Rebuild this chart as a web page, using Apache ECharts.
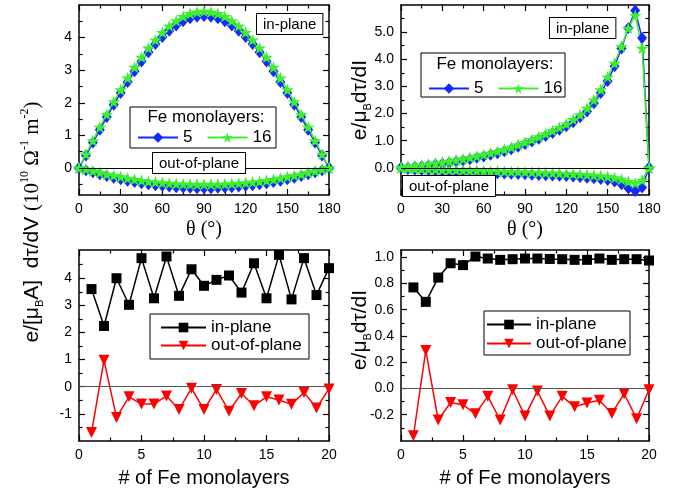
<!DOCTYPE html>
<html>
<head>
<meta charset="utf-8">
<script src="https://cdn.jsdelivr.net/npm/echarts@6/dist/echarts.min.js"></script>
<style>
  html, body { margin: 0; padding: 0; background: #fff; }
  #chart { width: 686px; height: 493px; }
</style>
</head>
<body>
<div id="chart"></div>
<script>
// angle scan (top panels)
const theta = [0,5,10,15,20,25,30,35,40,45,50,55,60,65,70,75,80,85,90,95,100,105,110,115,120,125,130,135,140,145,150,155,160,165,170,175,180];

// top-left: dtau/dV, 5 and 16 Fe monolayers
const dV5In = [0.00,0.38,0.78,1.17,1.56,1.94,2.30,2.64,2.97,3.27,3.55,3.80,4.02,4.21,4.37,4.50,4.59,4.64,4.66,4.64,4.59,4.50,4.37,4.21,4.02,3.80,3.55,3.27,2.97,2.64,2.30,1.94,1.56,1.17,0.78,0.38,0.00];
const dV5Out = [0.00,-0.07,-0.13,-0.19,-0.25,-0.30,-0.35,-0.39,-0.43,-0.47,-0.50,-0.53,-0.55,-0.57,-0.59,-0.60,-0.61,-0.62,-0.62,-0.62,-0.61,-0.60,-0.59,-0.57,-0.55,-0.53,-0.50,-0.47,-0.43,-0.39,-0.35,-0.30,-0.25,-0.19,-0.13,-0.07,0.00];
const dV16In = [0.00,0.42,0.84,1.25,1.64,2.03,2.40,2.76,3.09,3.40,3.68,3.93,4.16,4.36,4.52,4.65,4.74,4.79,4.81,4.79,4.74,4.65,4.52,4.36,4.16,3.93,3.68,3.40,3.09,2.76,2.40,2.03,1.64,1.25,0.84,0.42,0.00];
const dV16Out = [0.00,-0.04,-0.09,-0.14,-0.19,-0.23,-0.27,-0.31,-0.35,-0.38,-0.41,-0.43,-0.45,-0.47,-0.48,-0.49,-0.50,-0.50,-0.50,-0.50,-0.50,-0.49,-0.48,-0.47,-0.45,-0.43,-0.41,-0.38,-0.35,-0.31,-0.27,-0.23,-0.19,-0.14,-0.09,-0.04,0.00];

// top-right: e/muB dtau/dI
const dI5In = [0.00,0.00,0.03,0.06,0.09,0.12,0.15,0.19,0.23,0.27,0.32,0.37,0.42,0.48,0.54,0.61,0.69,0.78,0.88,0.97,1.07,1.17,1.28,1.40,1.53,1.68,1.86,2.08,2.38,2.76,3.20,3.74,4.40,5.15,5.80,4.78,0.00];
const dI5Out = [0.00,-0.04,-0.06,-0.08,-0.09,-0.10,-0.12,-0.13,-0.14,-0.15,-0.16,-0.17,-0.18,-0.19,-0.20,-0.21,-0.22,-0.23,-0.24,-0.25,-0.26,-0.27,-0.28,-0.29,-0.30,-0.32,-0.34,-0.36,-0.38,-0.41,-0.45,-0.50,-0.60,-0.75,-0.85,-0.72,0.00];
const dI16In = [0.02,0.05,0.08,0.11,0.14,0.17,0.21,0.25,0.29,0.33,0.38,0.43,0.49,0.55,0.61,0.68,0.76,0.85,0.95,1.05,1.15,1.26,1.37,1.49,1.62,1.78,1.96,2.20,2.50,2.88,3.35,3.86,4.47,5.15,5.62,4.41,0.00];
const dI16Out = [0.00,-0.02,-0.03,-0.04,-0.05,-0.06,-0.07,-0.08,-0.08,-0.09,-0.10,-0.10,-0.11,-0.12,-0.12,-0.13,-0.14,-0.14,-0.15,-0.16,-0.17,-0.18,-0.19,-0.20,-0.21,-0.22,-0.23,-0.25,-0.27,-0.29,-0.32,-0.36,-0.42,-0.50,-0.56,-0.45,0.00];

// bottom panels: vs number of Fe monolayers
const layers = [1,2,3,4,5,6,7,8,9,10,11,12,13,14,15,16,17,18,19,20];
const layerVIn = [3.60,2.24,4.00,3.02,4.74,3.26,4.80,3.35,4.33,3.72,3.94,4.10,3.47,4.55,3.26,4.86,3.22,4.74,3.38,4.37];
const layerVOut = [-1.69,0.98,-1.13,-0.37,-0.64,-0.64,-0.34,-0.84,-0.06,-0.84,-0.10,-0.90,-0.25,-0.70,-0.37,-0.49,-0.65,-0.21,-0.78,-0.08];
const layerIIn = [0.77,0.66,0.845,0.954,0.94,1.005,0.99,0.98,0.985,0.99,0.99,0.987,0.985,0.98,0.98,0.99,0.98,0.985,0.985,0.975];
const layerIOut = [-0.36,0.29,-0.24,-0.107,-0.124,-0.193,-0.06,-0.24,-0.01,-0.21,-0.02,-0.21,-0.06,-0.14,-0.11,-0.09,-0.19,-0.04,-0.23,-0.01];

// tick values
const thetaMajor = [0,30,60,90,120,150,180];
const thetaMinor = [15,45,75,105,135,165];
const layerMajor = [0,5,10,15,20];
const layerMinor = [2.5,7.5,12.5,17.5];
const tlMajor = [0,1,2,3,4];
const tlMinor = [-0.5,0.5,1.5,2.5,3.5,4.5];
const trMajor = [0,1,2,3,4,5];
const trMinor = [-0.5,0.5,1.5,2.5,3.5,4.5,5.5];
const blMajor = [-1,0,1,2,3,4];
const blMinor = [-1.5,-0.5,0.5,1.5,2.5,3.5,4.5];
const brMajor = [-0.2,0,0.2,0.4,0.6,0.8,1.0];
const brMinor = [-0.3,-0.1,0.1,0.3,0.5,0.7,0.9];

const SANS = '"Liberation Sans", Arial, sans-serif';
const SERIF = '"Liberation Serif", "Times New Roman", serif';
const BLUE = '#1428ff';
const GREEN = '#3cf02c';
const STAR = 'path://M50,0 L61,35 L98,35 L68,57 L79,91 L50,70 L21,91 L32,57 L2,35 L39,35 Z';

function axes(gridIndex, dim, min, max, major, minor, fmt, name, nameFont, nameGap) {
  const posA = dim === 'x' ? 'bottom' : 'left';
  const posB = dim === 'x' ? 'top' : 'right';
  const tick = (vals, len) => ({ show: true, inside: true, length: len, customValues: vals, lineStyle: { color: '#000', width: 1.2 } });
  const common = { gridIndex, type: 'value', min, max, splitLine: { show: false } };
  const main = Object.assign({}, common, {
    position: posA,
    axisLine: { show: true, onZero: false, lineStyle: { color: '#000', width: 1.5 } },
    axisTick: tick(major, 6),
    axisLabel: { show: true, customValues: major, formatter: fmt, color: '#000', fontFamily: SANS, fontSize: 14, margin: 7 }
  });
  if (name) {
    main.name = name;
    main.nameLocation = 'middle';
    main.nameGap = nameGap;
    main.nameTextStyle = { color: '#000', fontFamily: nameFont, fontSize: 20 };
  }
  const minorA = Object.assign({}, common, { position: posA, axisLine: { show: false, onZero: false }, axisTick: tick(minor, 3.5), axisLabel: { show: false } });
  const opp = Object.assign({}, common, { position: posB, axisLine: { show: true, onZero: false, lineStyle: { color: '#000', width: 1.5 } }, axisTick: tick(major, 6), axisLabel: { show: false } });
  const minorB = Object.assign({}, common, { position: posB, axisLine: { show: false, onZero: false }, axisTick: tick(minor, 3.5), axisLabel: { show: false } });
  return [main, minorA, opp, minorB];
}

function pairs(xs, ys) { return xs.map((x, i) => [x, ys[i]]); }

function line(name, g, xs, ys, color, symbol, size, extra) {
  return Object.assign({
    name, type: 'line', xAxisIndex: g * 4, yAxisIndex: g * 4,
    data: pairs(xs, ys), color, symbol, symbolSize: size, symbolKeepAspect: true,
    lineStyle: { color, width: 1.5 }, itemStyle: { color },
    z: 3
  }, extra || {});
}

function zeroLine(color) {
  return { silent: true, symbol: 'none', label: { show: false }, animation: false,
    lineStyle: { color, width: 1.2, type: 'solid' }, data: [{ yAxis: 0 }] };
}

const intFmt = v => String(Math.round(v));
const oneFmt = v => v.toFixed(1);

const xAxis = [].concat(
  axes(0, 'x', 0, 180, thetaMajor, thetaMinor, intFmt, 'θ (°)', SERIF, 25),
  axes(1, 'x', 0, 180, thetaMajor, thetaMinor, intFmt, 'θ (°)', SERIF, 25),
  axes(2, 'x', 0, 20, layerMajor, layerMinor, intFmt, '# of Fe monolayers', SANS, 27),
  axes(3, 'x', 0, 20, layerMajor, layerMinor, intFmt, '# of Fe monolayers', SANS, 27)
);
const yAxis = [].concat(
  axes(0, 'y', -0.83, 5.0, tlMajor, tlMinor, intFmt),
  axes(1, 'y', -1, 6, trMajor, trMinor, oneFmt),
  axes(2, 'y', -2, 5.04, blMajor, blMinor, intFmt),
  axes(3, 'y', -0.4, 1.055, brMajor, brMinor, oneFmt)
);

const DIAMOND = [10, 12];
const STAR_SIZE = 13;
const series = [
  line('5', 0, theta, dV5In, BLUE, 'diamond', DIAMOND, { markLine: zeroLine('#000') }),
  line('5', 0, theta, dV5Out, BLUE, 'diamond', DIAMOND),
  line('16', 0, theta, dV16In, GREEN, STAR, STAR_SIZE),
  line('16', 0, theta, dV16Out, GREEN, STAR, STAR_SIZE),
  line('5', 1, theta, dI5In, BLUE, 'diamond', DIAMOND, { markLine: zeroLine('#000') }),
  line('5', 1, theta, dI5Out, BLUE, 'diamond', DIAMOND),
  line('16', 1, theta, dI16In, GREEN, STAR, STAR_SIZE),
  line('16', 1, theta, dI16Out, GREEN, STAR, STAR_SIZE),
  line('in-plane', 2, layers, layerVIn, '#000', 'rect', 10, { markLine: zeroLine('#555') }),
  line('out-of-plane', 2, layers, layerVOut, '#ff0000', 'triangle', 11, { symbolRotate: 180 }),
  line('in-plane', 3, layers, layerIIn, '#000', 'rect', 10, { markLine: zeroLine('#555') }),
  line('out-of-plane', 3, layers, layerIOut, '#ff0000', 'triangle', 11, { symbolRotate: 180 })
];

const legendText = { fontSize: 17, fontFamily: SANS, color: '#000' };
const legend = [
  { data: ['5', '16'], left: 137, top: 129, itemWidth: 40, itemHeight: 13, itemGap: 14, padding: 0, selectedMode: false, textStyle: legendText, z: 10 },
  { data: ['5', '16'], left: 428, top: 80, itemWidth: 40, itemHeight: 13, itemGap: 14, padding: 0, selectedMode: false, textStyle: legendText, z: 10 },
  { data: ['in-plane', 'out-of-plane'], orient: 'vertical', left: 160, top: 319, itemWidth: 45, itemHeight: 12, itemGap: 1, padding: 0, selectedMode: false, textStyle: legendText, z: 10 },
  { data: ['in-plane', 'out-of-plane'], orient: 'vertical', left: 486, top: 316, itemWidth: 44, itemHeight: 12, itemGap: 2, padding: 0, selectedMode: false, textStyle: legendText, z: 10 }
];

function box(x, y, w, h) {
  return { type: 'rect', z: 8, shape: { x, y, width: w, height: h }, style: { fill: '#fff', stroke: '#000', lineWidth: 1 } };
}
function tag(text, x, y) {
  return { type: 'text', z: 9, x, y, style: { text, fill: '#000', font: '15px ' + SANS, align: 'left', verticalAlign: 'top',
    backgroundColor: '#fff', borderColor: '#000', borderWidth: 1, padding: [3, 6, 2, 6] } };
}
function label(text, x, y, size) {
  return { type: 'text', z: 10, x, y, style: { text, fill: '#000', font: size + 'px ' + SANS, align: 'center', verticalAlign: 'middle' } };
}

const yRich = {
  a: { fontSize: 21, fontFamily: SANS, color: '#000', lineHeight: 26 },
  r: { fontSize: 21, fontFamily: SERIF, color: '#000', lineHeight: 26 },
  p: { fontSize: 12, fontFamily: SERIF, color: '#000', lineHeight: 12, verticalAlign: 'top' },
  s: { fontSize: 11, fontFamily: SANS, color: '#000', lineHeight: 11, verticalAlign: 'bottom' }
};
function yTitle(text, x, y) {
  return { type: 'text', z: 10, x, y, rotation: Math.PI / 2, style: { text, rich: yRich, align: 'center', verticalAlign: 'middle' } };
}

const graphic = [
  box(130, 107, 146, 41),
  box(421, 53, 144, 44),
  box(150, 314, 159, 45),
  box(484, 311, 146, 44),
  label('Fe monolayers:', 206, 117, 17),
  label('Fe monolayers:', 495, 64, 17),
  tag('in-plane', 257, 14),
  tag('out-of-plane', 153, 153),
  tag('in-plane', 550, 18),
  tag('out-of-plane', 403, 176),
  yTitle('{a|e/[μ}{s|B}{a|A]  dτ/dV }{r|(10}{p|10}{r| Ω}{p|-1}{r| m}{p|-2}{r|)}', 32, 222),
  yTitle('{a|e/μ}{s|B}{a|dτ/dI}', 360, 100),
  yTitle('{a|e/μ}{s|B}{a|dτ/dI}', 360, 330)
];

const chart = echarts.init(document.getElementById('chart'));
chart.setOption({
  animation: false,
  backgroundColor: '#fff',
  grid: [
    { left: 79, top: 5, width: 250, height: 190, outerBoundsMode: 'none' },
    { left: 401, top: 5, width: 248, height: 190, outerBoundsMode: 'none' },
    { left: 79, top: 250, width: 250, height: 191, outerBoundsMode: 'none' },
    { left: 401, top: 250, width: 248, height: 191, outerBoundsMode: 'none' }
  ],
  xAxis, yAxis, series, legend, graphic
});
</script>
</body>
</html>
